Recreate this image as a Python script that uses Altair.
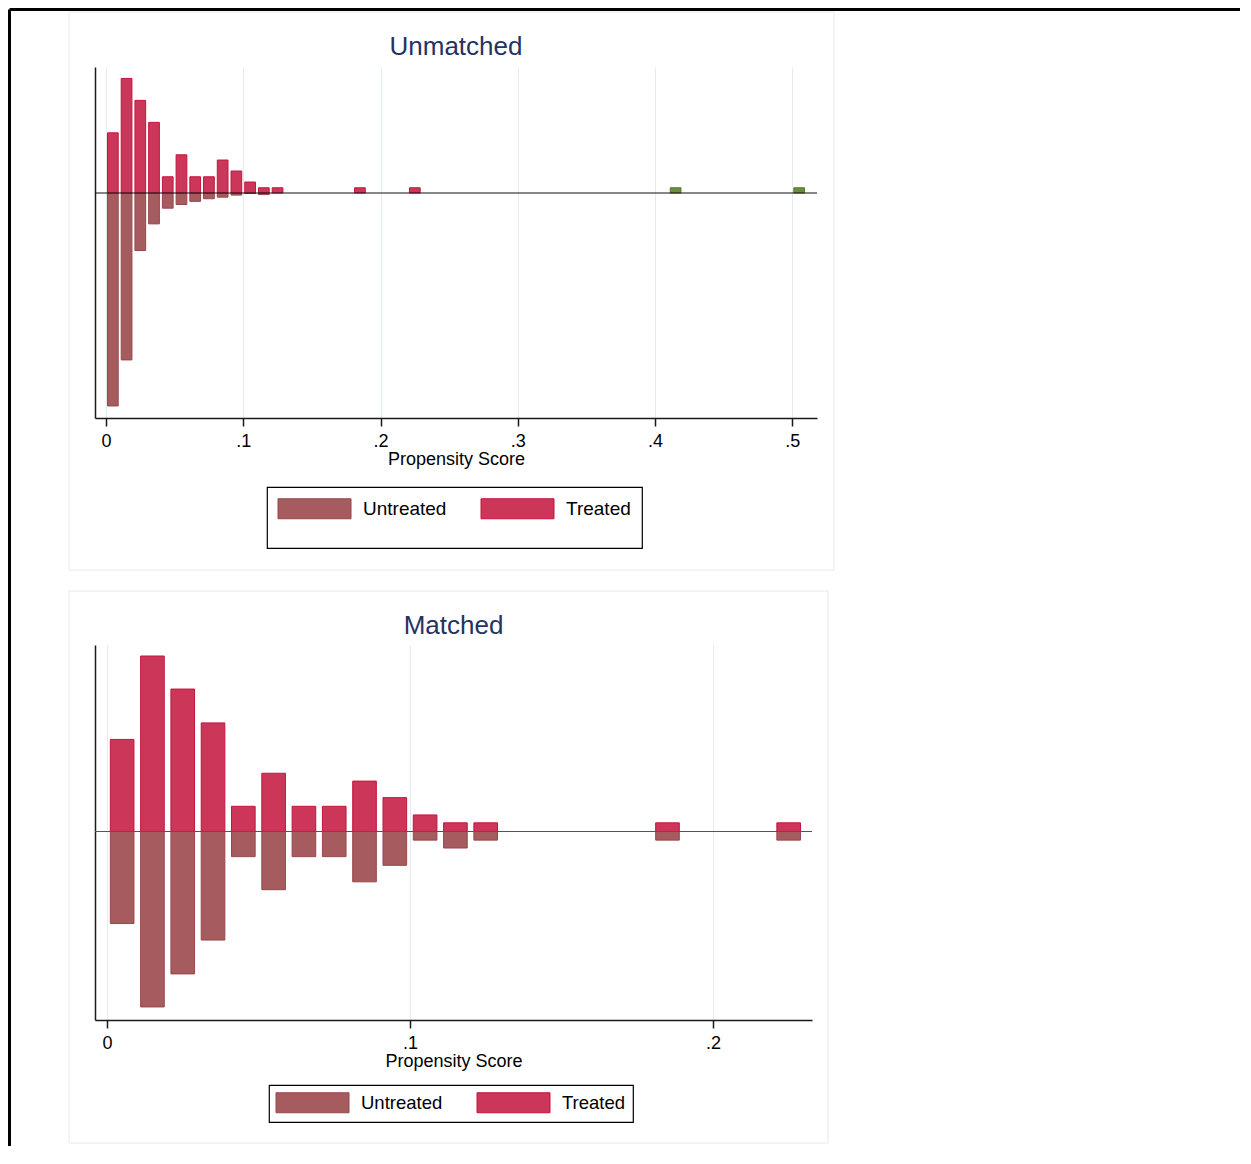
import altair as alt
import pandas as pd

# ---------------- data (percent of group per 0.01-wide propensity-score bin) ----------------
bin_centers = [0.005, 0.015, 0.025, 0.035, 0.045, 0.055, 0.065, 0.075, 0.085,
               0.095, 0.105, 0.115, 0.125, 0.185, 0.225]

unmatched_treated = [11.5, 21.9, 17.7, 13.5, 3.1, 7.3, 3.1, 3.1, 6.3,
                     4.2, 2.1, 1.0, 1.0, 1.0, 1.0]
unmatched_untreated = [40.7, 31.9, 11.0, 5.9, 2.9, 2.2, 1.6, 1.1, 0.8,
                       0.4, 0.1, 0.3, 0.0, 0.0, 0.0]
offsupport_centers = [0.415, 0.505]
offsupport_treated = [1.0, 1.0]

matched_treated = [11.7, 22.3, 18.1, 13.8, 3.2, 7.4, 3.2, 3.2, 6.4,
                   4.3, 2.1, 1.1, 1.1, 1.1, 1.1]
matched_untreated = [11.7, 22.3, 18.1, 13.8, 3.2, 7.4, 3.2, 3.2, 6.4,
                     4.3, 1.1, 2.1, 1.1, 1.1, 1.1]

groups = ["Untreated", "Treated", "Off support"]
legend_groups = ["Untreated", "Treated"]
fill_colors = ["#a65c5f", "#cc3759", "#6b8e3f"]
stroke_colors = ["#96474c", "#c4143d", "#55792c"]

ticks_unmatched = [0, 0.1, 0.2, 0.3, 0.4, 0.5]
ticks_matched = [0, 0.1, 0.2]

FONT = "Liberation Sans"
TITLE_COLOR = "#24335f"
SWATCH = "M-3.65,-1H3.65V1H-3.65Z"   # 73 x 20 px at symbolSize 400


def build_rows(centers, treated, untreated, off_centers=(), off_vals=()):
    rows = []
    for c, v in zip(centers, untreated):
        rows.append({"center": c, "group": "Untreated", "value": v, "lo": -v, "hi": 0.0})
    for c, v in zip(centers, treated):
        rows.append({"center": c, "group": "Treated", "value": v, "lo": 0.0, "hi": v})
    for c, v in zip(off_centers, off_vals):
        rows.append({"center": c, "group": "Off support", "value": v, "lo": 0.0, "hi": v})
    return pd.DataFrame(rows)


one = pd.DataFrame({"k": [0]})


def panel(df, title, title_y, xdom, ydom, ticks, w, h, box, legend, zero_color, frame=False):
    x_axis = alt.Axis(
        values=ticks,
        labelExpr="datum.value == 0 ? '0' : substring(format(datum.value, '.1f'), 1)",
        grid=True, gridColor="#e3ecee", gridWidth=1,
        domainColor="#1a1a1a", domainWidth=1.5,
        tickColor="#1a1a1a", tickWidth=1.5, tickSize=8,
        labelFont=FONT, labelFontSize=18, labelColor="black", labelPadding=6,
        labelFlush=False, labelOverlap=False,
        title="Propensity Score", titleFont=FONT, titleFontSize=18,
        titleFontWeight="normal", titleColor="black", titlePadding=0,
    )
    y_axis = alt.Axis(labels=False, ticks=False, grid=False, title=None,
                      domainColor="#1a1a1a", domainWidth=1.5)

    bars = alt.Chart(df).mark_rect(strokeWidth=1).transform_filter(
        "datum.value > 0"
    ).transform_calculate(
        x0="datum.center - 0.0039", x1="datum.center + 0.0039"
    ).encode(
        x=alt.X("x0:Q", scale=alt.Scale(domain=xdom, nice=False, zero=False), axis=x_axis),
        x2="x1:Q",
        y=alt.Y("lo:Q", scale=alt.Scale(domain=ydom, nice=False, zero=False), axis=y_axis),
        y2="hi:Q",
        color=alt.Color("group:N", scale=alt.Scale(domain=groups, range=fill_colors), legend=legend),
        stroke=alt.Stroke("group:N", scale=alt.Scale(domain=groups, range=stroke_colors), legend=legend),
    )

    box_rect = alt.Chart(one).mark_rect(filled=False, color="#e6eaee", strokeWidth=1).encode(
        x=alt.value(box[0]), x2=alt.value(box[1]), y=alt.value(box[2]), y2=alt.value(box[3])
    )
    zero = alt.Chart(one).mark_rule(color=zero_color, strokeWidth=1.2).encode(y=alt.datum(0))
    title_text = alt.Chart(one).mark_text(
        text=title, font=FONT, fontSize=26, color=TITLE_COLOR, align="center",
        baseline="alphabetic",
    ).encode(x=alt.value(w / 2), y=alt.value(title_y))

    layers = [box_rect]
    if frame:
        layers.append(alt.Chart(one).mark_rule(color="black", strokeWidth=3).encode(
            x=alt.value(-85.5), y=alt.value(-57.5), y2=alt.value(1079)))
        layers.append(alt.Chart(one).mark_rule(color="black", strokeWidth=3).encode(
            x=alt.value(-85.5), x2=alt.value(1145), y=alt.value(-57.5)))
    layers += [bars, zero, title_text]

    return alt.layer(*layers).properties(width=w, height=h)


legend_top = alt.Legend(
    values=legend_groups, orient="none", legendX=172, legendY=420, direction="horizontal",
    title=" ", titleOrient="bottom", titleFontSize=6, titlePadding=10,
    symbolType=SWATCH, symbolSize=400, symbolStrokeWidth=1, symbolOffset=26,
    labelFont=FONT, labelFontSize=19, labelColor="black", labelOffset=38,
    columnPadding=32, padding=11, strokeColor="black", fillColor="white",
)
legend_bottom = alt.Legend(
    values=legend_groups, orient="none", legendX=174, legendY=440, direction="horizontal",
    title=None,
    symbolType=SWATCH, symbolSize=400, symbolStrokeWidth=1, symbolOffset=26,
    labelFont=FONT, labelFontSize=18.5, labelColor="black", labelOffset=38,
    columnPadding=32, padding=7, strokeColor="black", fillColor="white",
)

top = panel(
    build_rows(bin_centers, unmatched_treated, unmatched_untreated,
               offsupport_centers, offsupport_treated),
    "Unmatched", -12, [-0.008, 0.518], [-43.0, 24.08], ticks_unmatched, 722, 351,
    (-26, 739, -55, 503), legend_top, "#111111", frame=True,
)
bottom = panel(
    build_rows(bin_centers, matched_treated, matched_untreated),
    "Matched", -11, [-0.00396, 0.2327], [-23.96, 23.7], ticks_matched, 717, 375,
    (-26, 733, -54, 498), legend_bottom, "#555555",
)

chart = alt.vconcat(top, bottom, spacing=227, bounds="flush").resolve_scale(
    color="independent", stroke="independent"
).properties(padding=0).configure_view(strokeWidth=0).configure_legend(strokeWidth=1.2)

chart.save("out.html", embed_options={"renderer": "svg", "actions": False})
